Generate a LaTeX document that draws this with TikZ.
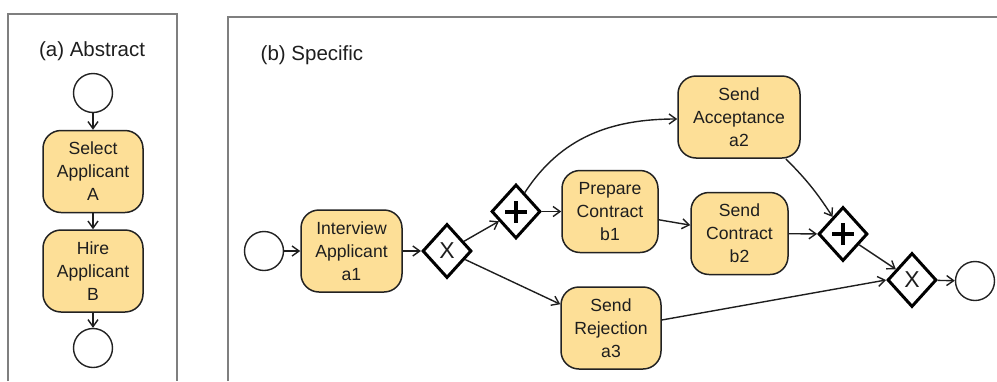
\documentclass[tikz,border=0pt]{standalone}
\usepackage{fontspec}
\setmainfont{Liberation Sans}
\usetikzlibrary{shapes.geometric,arrows.meta}

\definecolor{taskfill}{HTML}{FDDF97}
\definecolor{taskdraw}{HTML}{222222}
\definecolor{panelc}{HTML}{7F7F7F}
\definecolor{txt}{HTML}{1E1E1E}

\tikzset{
  task/.style={draw=taskdraw, fill=taskfill, line width=1.5pt, rounded corners=18pt,
    minimum height=82pt, align=center, font=\fontsize{17.6}{23}\selectfont,
    text=txt, inner sep=0pt},
  event/.style={circle, draw=taskdraw, line width=1.4pt, minimum size=39pt, inner sep=0pt},
  gw/.style={diamond, draw=black, line width=3pt, minimum width=49pt, minimum height=54pt,
    inner sep=0pt, fill=white},
  xorgw/.style={gw, font=\fontsize{23}{23}\selectfont, text=txt},
  andgw/.style={gw, path picture={
      \draw[line width=4pt] ([xshift=-11pt]path picture bounding box.center) -- ([xshift=11pt]path picture bounding box.center);
      \draw[line width=4pt] ([yshift=-11pt]path picture bounding box.center) -- ([yshift=11pt]path picture bounding box.center);}},
  flow/.style={line width=1.4pt, draw=txt, -{Straight Barb[length=7pt,width=10pt]}},
  panel/.style={line width=1.5pt, draw=panelc},
  title/.style={font=\fontsize{20.5}{24}\selectfont, text=txt, inner sep=0pt},
}

\begin{document}
\begin{tikzpicture}[x=1pt,y=1pt]
\useasboundingbox (0,0) rectangle (997,-381);

% panels
\draw[panel] (8,-381) -- (8,-14) -- (177,-14) -- (177,-381);
\draw[panel] (228,-381) -- (228,-17) -- (997,-17);

\node[title] (ta) at (92,-51) {(a) Abstract};
\node[title] (tb) at (312,-55) {(b) Specific};

% (a) abstract
\node[event] (astart) at (93,-93) {};
\node[task, minimum width=100pt] (asel) at (93,-171.5) {Select\\Applicant\\A};
\node[task, minimum width=100pt] (ahire) at (93,-271) {Hire\\Applicant\\B};
\node[event] (aend) at (93,-348) {};

\draw[flow] (astart) -- (asel);
\draw[flow] (asel) -- (ahire);
\draw[flow] (ahire) -- (aend);

% (b) specific
\node[event] (bstart) at (264,-251) {};
\node[task, minimum width=101pt] (bint) at (351.5,-251) {Interview\\Applicant\\a1};
\node[xorgw] (xor1) at (447,-251) {X};
\node[andgw] (and1) at (516,-211.5) {};
\node[task, minimum width=122pt] (acc) at (739,-117) {Send\\Acceptance\\a2};
\node[task, minimum width=96pt] (prep) at (610,-211.5) {Prepare\\Contract\\b1};
\node[task, minimum width=97pt] (sc) at (739.5,-233.5) {Send\\Contract\\b2};
\node[task, minimum width=100pt] (rej) at (611,-328) {Send\\Rejection\\a3};
\node[andgw] (and2) at (843,-234) {};
\node[xorgw] (xor2) at (912,-280) {X};
\node[event] (bend) at (975,-281) {};

\draw[flow] (bstart) -- (bint);
\draw[flow] (bint) -- (xor1);
\draw[flow] (xor1) -- (and1);
\draw[flow] (xor1) -- (rej);
\draw[flow] (and1) -- (prep);
\draw[flow] (and1.65) to[out=57,in=180] ([yshift=-2pt]acc.west);
\draw[flow] (prep) -- (sc);
\draw[flow] (sc) -- (and2);
\draw[flow] ([xshift=-15pt]acc.south east) to[bend left=6] (and2);
\draw[flow] (and2) -- (xor2);
\draw[flow] ([yshift=8pt]rej.east) -- (xor2.west);
\draw[flow] (xor2) -- (bend);
\end{tikzpicture}
\end{document}
